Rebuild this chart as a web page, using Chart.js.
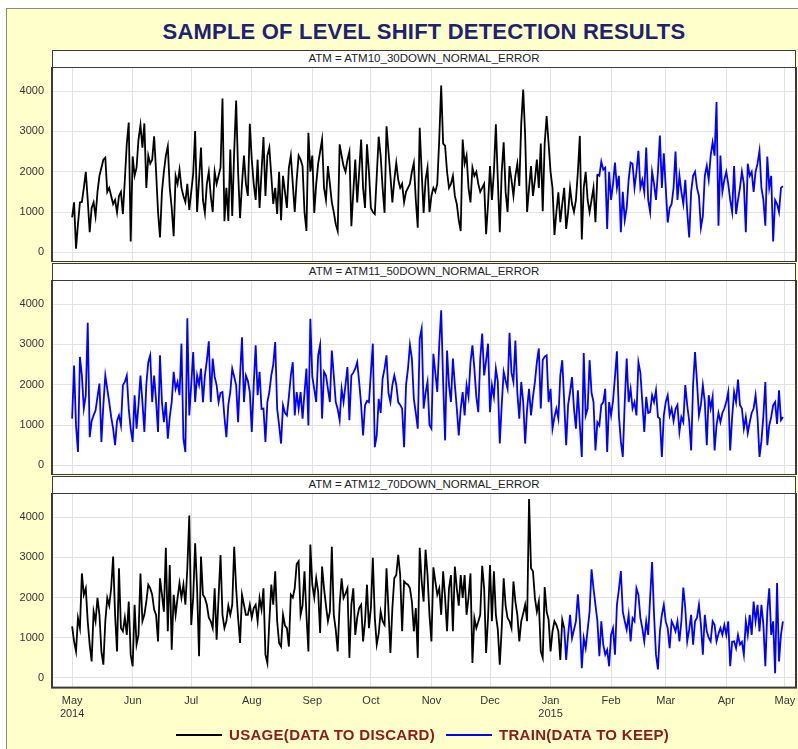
<!DOCTYPE html>
<html>
<head>
<meta charset="utf-8">
<title>Sample of level shift detection results</title>
<script src="https://cdn.jsdelivr.net/npm/chart.js@4.4.1/dist/chart.umd.min.js"></script>
<style>
  html, body { margin: 0; padding: 0; width: 798px; height: 749px; overflow: hidden; background: #fff;
    font-family: Arial, "Liberation Sans", sans-serif; }
  #frame { position: absolute; left: 6px; top: 8px; width: 800px; height: 750px; background: #FFFFCC;
    border: 1px solid #8a8a7a; box-sizing: border-box; }
  #title { position: absolute; left: 52px; top: 19px; width: 744px; text-align: center; font-weight: bold;
    font-size: 22px; color: #1E2270; letter-spacing: 0.2px; }
  .strip { position: absolute; left: 52px; width: 744px; height: 17px; background: #fff; border: 1px solid #3a3a3a;
    border-bottom: none; box-sizing: border-box; text-align: center; font-size: 11.5px; line-height: 15px; color: #222; }
  .panel { position: absolute; left: 0; width: 798px; }
  .legend-line { position: absolute; top: 734px; height: 2px; width: 46px; }
  .legend-text { position: absolute; top: 726px; font-weight: bold; font-size: 15px; color: #8B1A1A; white-space: nowrap; }
</style>
</head>
<body>
<div id="frame"></div>
<div id="title">SAMPLE OF LEVEL SHIFT DETECTION RESULTS</div>

<div class="strip" id="strip1" style="top:50px"></div>
<div class="panel" style="top:67px;height:195px"><canvas id="atm10"></canvas></div>
<div class="strip" id="strip2" style="top:263px"></div>
<div class="panel" style="top:280px;height:195px"><canvas id="atm11"></canvas></div>
<div class="strip" id="strip3" style="top:476px"></div>
<div class="panel" style="top:493px;height:235px"><canvas id="atm12"></canvas></div>

<div class="legend-line" style="left:176px;background:#000"></div>
<div class="legend-text" style="left:229px;letter-spacing:0.3px">USAGE(DATA TO DISCARD)</div>
<div class="legend-line" style="left:446px;background:#0000FF"></div>
<div class="legend-text" style="left:499px;letter-spacing:0.3px">TRAIN(DATA TO KEEP)</div>

<script>
// x values are days counted from 1 May 2014
const monthTicks = [0, 31, 61, 92, 123, 153, 184, 214, 245, 276, 304, 335, 365];
const monthLabels = [['May', '2014'], 'Jun', 'Jul', 'Aug', 'Sep', 'Oct', 'Nov', 'Dec',
  ['Jan', '2015'], 'Feb', 'Mar', 'Apr', 'May'];
const yTicks = [0, 1000, 2000, 3000, 4000];
const panelTitles = [
  'ATM = ATM10_30DOWN_NORMAL_ERROR',
  'ATM = ATM11_50DOWN_NORMAL_ERROR',
  'ATM = ATM12_70DOWN_NORMAL_ERROR'
];

// ATM10: usage from day 0, train from day 269
const atm10UsageStart = 0;
const atm10Usage = [
  870, 1240, 90, 700, 1240, 1250, 1600, 2000, 1300, 500,
  1100, 1240, 900, 1500, 1900, 2100, 2300, 2350, 1500, 1600,
  1400, 1200, 1300, 990, 1400, 1500, 950, 1800, 2700, 3220,
  270, 2380, 1900, 2100, 2800, 3160, 2600, 3200, 1600, 2400,
  2200, 2300, 2880, 2000, 1000, 370, 1500, 2000, 2400, 2630,
  1600, 1100, 400, 1900, 1700, 2050, 1600, 1400, 1250, 1700,
  1050, 1500, 1950, 3010, 1000, 1800, 2600, 1300, 980, 1700,
  2000, 1400, 1000, 2000, 1700, 1900, 2100, 3820, 770, 1600,
  780, 2550, 900, 2500, 3770, 2000, 850, 1700, 2400, 1700,
  1400, 3190, 2300, 1700, 1300, 2300, 1100, 2000, 2860, 1400,
  2400, 2600, 1900, 1200, 1600, 950, 2000, 800, 1900, 1500,
  1100, 2100, 2400, 1700, 1000, 1800, 2400, 2300, 2140, 1000,
  530, 2970, 2000, 2400, 980, 1700, 2200, 2500, 2800, 1600,
  1300, 2140, 1700, 1240, 1000, 700, 530, 2680, 2400, 2140,
  2000, 2300, 2500, 650, 1500, 2300, 1240, 2000, 2800, 1600,
  1100, 2680, 2000, 1100, 1000, 950, 1900, 2870, 2400, 1600,
  980, 3130, 2500, 1900, 1240, 1800, 2220, 1800, 1600, 1700,
  1240, 1500, 1600, 1700, 2000, 2220, 1300, 610, 3090, 2000,
  980, 1800, 2100, 1000, 1400, 1600, 1500, 1700, 2800, 4140,
  2700, 2640, 2000, 1600, 1700, 1900, 1400, 1200, 800, 530,
  2800, 2200, 2400, 1600, 1240, 2100, 1900, 2000, 1700, 1500,
  1600, 1700, 450, 1200, 2140, 1300, 2000, 3180, 1800, 500,
  2000, 2730, 1500, 1000, 2140, 1800, 1400, 1900, 2200, 1650,
  3200, 4040, 2900, 1000, 1600, 2140, 1400, 1800, 2300, 1600,
  2700, 1020, 2700, 3380, 2700, 2000, 1600, 430, 1000, 1490,
  750, 1200, 1600, 580, 1000, 1600, 1200, 1000, 1300, 2000,
  2890, 320, 1600, 2000, 1300, 1000, 1300, 1600, 750, 1940
];
const atm10TrainStart = 269;
const atm10Train = [
  1940, 1900, 2250, 2050, 2100, 580, 2000, 1300, 1700, 2230,
  1600, 1900, 500, 1500, 800, 1100, 1800, 2230, 2200, 1600,
  2000, 2520, 1600, 1800, 1500, 2600, 1300, 1000, 2000, 1700,
  1300, 2000, 2900, 1600, 2460, 1600, 740, 1100, 1200, 1600,
  2500, 1300, 1900, 1500, 1200, 1800, 1000, 370, 1500, 1900,
  2000, 1600, 1400, 610, 900, 1900, 2150, 1800, 2400, 2730,
  2400, 3730, 660, 2400, 1500, 1800, 2000, 1700, 1300, 1000,
  2140, 950, 1300, 1600, 2000, 1700, 500, 2200, 1900, 2000,
  1500, 2000, 2200, 2520, 1600, 1300, 660, 2380, 1600, 1900,
  270, 1300, 1200, 1000, 1600, 1640
];

// ATM11: train for the whole year
const atm11TrainStart = 0;
const atm11Train = [
  1160, 2480, 990, 330, 2690, 2230, 1410, 1740, 3540, 700,
  1100, 1240, 1360, 1700, 2030, 580, 1500, 2230, 1900, 1570,
  1200, 910, 500, 1100, 1240, 990, 1990, 2070, 2230, 1400,
  910, 580, 1740, 910, 1500, 2230, 1570, 830, 2000, 2560,
  2730, 1570, 2230, 1600, 830, 2730, 1570, 1070, 1570, 660,
  1200, 1570, 2320, 1900, 2070, 1740, 3020, 660, 330, 3650,
  1240, 2000, 2810, 1570, 2230, 2000, 2400, 1570, 2230, 2600,
  3080, 1570, 2650, 2200, 1990, 1570, 1800, 1820, 1200, 700,
  1500, 1820, 2400, 2200, 1990, 1070, 2230, 3180, 1570, 2230,
  2100, 1820, 830, 2000, 2980, 1740, 2320, 1400, 1410, 580,
  1570, 1820, 2230, 2500, 3060, 1410, 1000, 540, 1490, 1300,
  1240, 1700, 2230, 2560, 1240, 1820, 1400,
  1820, 1160, 1800, 2400, 990, 3640, 2200, 1900, 1570, 2730,
  2990, 1160, 2320, 2230, 1900, 1570, 2850, 2230, 1570, 1400,
  1120, 1900, 1570, 2000, 2440, 1120, 2230, 2300, 2400, 2560,
  2070, 1500, 740, 1490, 1600, 1570, 2300, 3020, 450, 740,
  1650, 1300, 2150, 2400, 2730, 1800, 1570, 1990, 2230, 2000,
  1570, 1500, 1410, 450, 1990, 2400, 2990, 2650, 1650, 1300,
  910, 3140, 3390, 1410, 1800, 2070, 1000, 910, 2770, 2300,
  1820, 3000, 3850, 2070, 620, 2850, 2000, 1570, 2650, 2000,
  1410, 740, 1400, 1820, 1240, 1990, 1700, 2550, 2980, 2400,
  1700, 1320, 2650, 3270, 2230, 2600, 3020, 1320, 1990, 1700,
  2400, 2070, 540, 1500, 2320, 2100, 1900, 3290, 2300, 2070,
  3100, 1800, 1160, 2070, 1570, 540, 1400, 1900, 1240, 1700,
  2070, 2560, 2900,
  1410, 2610, 2700, 2730, 1570, 1900, 910, 1200, 1410, 1160,
  2230, 2610, 1570, 500, 1500, 1820, 2190, 1410, 910, 1860,
  1000, 210, 2790, 1240, 1410, 2610, 1800, 1570, 370, 1070,
  990, 1500, 1570, 1900, 330, 1570, 1240, 1600, 2200, 2830,
  1240, 600, 210, 1570, 2650, 1570, 1900, 1410, 1570, 1240,
  2560, 2300, 1570, 830, 1700, 1300, 1320, 1740, 1570, 1860,
  1200, 1160, 210, 1240, 1570, 1740, 1240, 1410, 1100, 1400,
  1500, 830, 1200, 1070, 1990, 1490, 1100, 370, 1990, 2810,
  2070, 1240, 1500, 1990, 1570, 500, 1740, 1410, 1700, 370,
  990, 1300, 1070, 1300, 1410, 1570, 1820, 370, 1200, 1820,
  1570, 2130, 1500, 1410, 910, 1200, 800, 1070, 1300, 1410,
  1740, 1200, 210, 600, 1240, 2070, 500, 990, 1200, 1490,
  1570, 1030, 1860, 1120, 1200
];

// ATM12: usage from day 0, train from day 252
const atm12UsageStart = 0;
const atm12Usage = [
  1280, 910, 660, 1490, 1240, 2600, 2070, 2230, 1400, 830,
  410, 1650, 1410, 1990, 1570, 660, 330, 1410, 1990, 1800,
  2230, 3020, 1570, 660, 2730, 1240, 1160, 1500, 1070, 1900,
  580, 290, 1820, 830, 1070, 2600, 1410, 1570, 1900, 2320,
  2230, 2070, 1700, 1570, 910, 2480, 2070, 1650, 3240, 1160,
  2810, 700, 2070, 1570, 1990, 2360, 2000, 2320, 1820, 2730,
  4040, 1320, 2000, 3350, 2230, 540, 3020, 2070, 1990, 1820,
  1500, 1410, 1240, 2230, 950, 2000, 3060, 1570, 1240, 1410,
  1800, 1570, 1820, 3260, 2230, 1490, 870, 2070, 1820, 1570,
  1570, 1820, 1500, 1740, 1820, 1410, 1990, 1700, 2230, 580,
  370, 1410, 2320, 1820, 2650, 1410, 870, 780, 1570, 1300,
  1240, 780, 2070, 2000, 2230, 2830, 2900, 1570, 1800, 2650,
  1570, 660, 3320, 2320, 2000, 2480, 2150, 1120, 2770, 2230,
  1800, 1410, 1650, 3260, 1570, 1200, 660, 1820, 2480, 1990,
  2100, 2230, 500, 1820, 2230, 1070, 1500, 1740, 1820, 910,
  1410, 2320, 1240, 1740, 2990, 1500, 830, 1100, 1650, 1410,
  1320, 2730, 1700, 620, 1740, 2480, 2560, 3060, 2560, 1160,
  2400, 2350, 2320, 2230, 1900, 1160, 1740, 500, 3240, 2400,
  1900, 3190, 2560, 1570, 910, 2750, 2400, 2070, 2230, 1570,
  2650, 2000, 1160, 2230, 2560, 1160, 2770, 2230, 1800, 2560,
  1990, 2560, 1570, 2000, 2600, 370, 1490, 1240, 1400, 1570,
  2790, 2230, 620, 1500, 2810, 1410, 2650, 1570, 1200, 330,
  1240, 2480, 1800, 1490, 1410, 1240, 2400, 1900, 1570, 910,
  1410, 1600, 1820, 1410, 4450, 2730, 2650, 1990, 1650, 1900,
  660, 500, 2260, 1650, 1450, 660, 1160, 1410, 1320, 1160,
  450, 1450, 1240
];
const atm12TrainStart = 252;
const atm12Train = [
  1240, 450, 1070, 1570, 990, 1200, 1410, 2080, 1410, 240,
  990, 740, 1200, 1650, 2700, 2230, 1820, 1410, 540, 1410,
  830, 580, 700, 290, 1070, 1240, 580, 1820, 2200, 2660,
  1650, 1410, 1200, 1570, 910, 1490, 1410, 2230, 2070, 1500,
  1240, 910, 1410, 1070, 2000, 2880, 1570, 580, 210, 1160,
  1570, 1820, 1400, 1240, 740, 1410, 1300, 1160, 1410, 910,
  1410, 2250, 1740, 910, 1200, 1570, 830, 1410, 1500, 1820,
  1320, 580, 1570, 1160, 1000, 910, 1410, 1320, 910, 1100,
  1240, 1070, 1320, 1070, 1410, 290, 900, 910, 740, 1070,
  830, 900, 580, 1410, 1070, 1570, 1070, 1900, 1410, 1820,
  1160, 1820, 1320, 290, 1650, 2230, 1070, 1410, 120, 2360,
  410, 1070, 1410
];

const FONT = 'Arial, "Liberation Sans", sans-serif';
const USAGE_COLOR = '#000000';
const TRAIN_COLOR = '#0000FF';

document.getElementById('strip1').textContent = panelTitles[0];
document.getElementById('strip2').textContent = panelTitles[1];
document.getElementById('strip3').textContent = panelTitles[2];

function toPoints(values, start) {
  return values.map((v, i) => ({ x: start + i, y: v }));
}

// White plot background and the dark frame round each panel.
const panelFrame = {
  id: 'panelFrame',
  beforeDraw(chart) {
    const { ctx, chartArea: a } = chart;
    ctx.save();
    ctx.fillStyle = '#ffffff';
    ctx.fillRect(a.left, a.top, a.width, a.height);
    ctx.restore();
  },
  afterDraw(chart) {
    const { ctx, chartArea: a } = chart;
    ctx.save();
    ctx.strokeStyle = '#3a3a3a';
    ctx.lineWidth = 2;
    ctx.strokeRect(a.left, a.top, a.width, a.height);
    ctx.restore();
  }
};

function lineSet(label, points, color) {
  return {
    label: label,
    data: points,
    borderColor: color,
    backgroundColor: color,
    borderWidth: 1.8,
    pointRadius: 0,
    tension: 0,
    fill: false
  };
}

function makePanel(canvasId, usage, usageStart, train, trainStart, showDates) {
  const datasets = [];
  if (usage) {
    datasets.push(lineSet('USAGE(DATA TO DISCARD)', toPoints(usage, usageStart), USAGE_COLOR));
  }
  datasets.push(lineSet('TRAIN(DATA TO KEEP)', toPoints(train, trainStart), TRAIN_COLOR));

  return new Chart(document.getElementById(canvasId), {
    type: 'line',
    data: { datasets },
    options: {
      responsive: true,
      maintainAspectRatio: false,
      animation: false,
      events: [],
      layout: { padding: { left: 0, right: 2, top: 0, bottom: 0 } },
      scales: {
        x: {
          type: 'linear',
          min: -10.3,
          max: 370.7,
          afterBuildTicks: s => { s.ticks = monthTicks.map(v => ({ value: v })); },
          afterFit: s => {
            if (!showDates) s.height = 0;
            s.paddingLeft = 0;
            s.paddingRight = 0;
          },
          grid: { color: '#e2e2e2', drawTicks: false },
          border: { display: false },
          ticks: {
            display: showDates,
            autoSkip: false,
            maxRotation: 0,
            padding: 7,
            color: '#333',
            font: { family: FONT, size: 11 },
            callback: (v, i) => monthLabels[i]
          }
        },
        y: {
          min: -240,
          max: 4600,
          afterBuildTicks: s => { s.ticks = yTicks.map(v => ({ value: v })); },
          afterFit: s => {
            s.width = 52;
            s.paddingTop = 0;
            s.paddingBottom = 0;
          },
          grid: { color: '#e2e2e2', drawTicks: false },
          border: { display: false },
          ticks: {
            padding: 8,
            color: '#333',
            font: { family: FONT, size: 11 },
            callback: v => String(v)
          }
        }
      },
      plugins: {
        legend: { display: false },
        tooltip: { enabled: false }
      }
    },
    plugins: [panelFrame]
  });
}

makePanel('atm10', atm10Usage, atm10UsageStart, atm10Train, atm10TrainStart, false);
makePanel('atm11', null, 0, atm11Train, atm11TrainStart, false);
makePanel('atm12', atm12Usage, atm12UsageStart, atm12Train, atm12TrainStart, true);
</script>
</body>
</html>
